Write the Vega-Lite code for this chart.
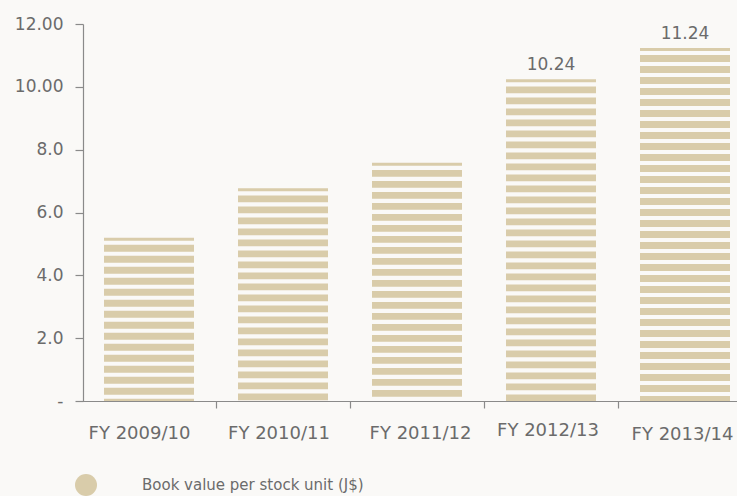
{
  "$schema": "https://vega.github.io/schema/vega-lite/v6.json",
  "width": 654,
  "height": 377,
  "autosize": {"type": "none"},
  "padding": {"left": 83, "top": 24, "right": 0, "bottom": 95},
  "background": "#faf9f7",
  "config": {"view": {"stroke": null}, "font": "DejaVu Sans"},
  "data": {
    "values": [
      {"year": "FY 2009/10", "value": 5.2, "series": "Book value per stock unit (J$)", "label": ""},
      {"year": "FY 2010/11", "value": 6.77, "series": "Book value per stock unit (J$)", "label": ""},
      {"year": "FY 2011/12", "value": 7.58, "series": "Book value per stock unit (J$)", "label": ""},
      {"year": "FY 2012/13", "value": 10.24, "series": "Book value per stock unit (J$)", "label": "10.24"},
      {"year": "FY 2013/14", "value": 11.24, "series": "Book value per stock unit (J$)", "label": "11.24"}
    ]
  },
  "layer": [
    {
      "mark": {"type": "rule", "strokeWidth": 90, "strokeCap": "butt", "strokeDash": [6.8, 4.2], "strokeDashOffset": 3.8, "opacity": 1},
      "encoding": {
        "x": {
          "field": "year",
          "type": "nominal",
          "sort": null,
          "scale": {"range": [-1, 669], "paddingInner": 0.33, "paddingOuter": 0.165},
          "axis": {
            "title": null,
            "orient": "bottom",
            "domainColor": "#8a8a8a",
            "domainWidth": 1.2,
            "tickColor": "#8a8a8a",
            "tickWidth": 1.2,
            "tickSize": 7,
            "tickOffset": 67,
            "labelFontSize": 18,
            "labelColor": "#6b6b6b",
            "labelBaseline": "alphabetic",
            "labelAngle": 0,
            "labelOverlap": false,
            "labelBound": false,
            "labelPadding": {
              "condition": [
                {"test": "datum.value === 'FY 2012/13'", "value": 27.5},
                {"test": "datum.value === 'FY 2013/14'", "value": 31.3}
              ],
              "value": 30.3
            },
            "labelOffset": {
              "condition": [
                {"test": "datum.value === 'FY 2009/10'", "value": -77},
                {"test": "datum.value === 'FY 2010/11'", "value": -71.5},
                {"test": "datum.value === 'FY 2011/12'", "value": -64},
                {"test": "datum.value === 'FY 2012/13'", "value": -70.5},
                {"test": "datum.value === 'FY 2013/14'", "value": -70}
              ],
              "value": -67
            },
            "zindex": 2
          }
        },
        "y": {
          "field": "value",
          "type": "quantitative",
          "scale": {"domain": [0, 12], "nice": false},
          "axis": {
            "title": null,
            "orient": "left",
            "values": [0, 2, 4, 6, 8, 10, 12],
            "grid": false,
            "domainColor": "#8a8a8a",
            "domainWidth": 1.2,
            "tickColor": "#8a8a8a",
            "tickWidth": 1.2,
            "tickSize": 8,
            "labelFontSize": 17,
            "labelColor": "#6b6b6b",
            "labelPadding": 12,
            "labelExpr": "datum.value == 0 ? '-' : (datum.value >= 10 ? format(datum.value, '.2f') : format(datum.value, '.1f'))",
            "zindex": 2
          }
        },
        "y2": {"datum": 0},
        "color": {
          "field": "series",
          "type": "nominal",
          "scale": {"range": ["#d9ccaa"]},
          "legend": {
            "title": null,
            "orient": "none",
            "legendX": -8,
            "legendY": 450,
            "symbolType": "circle",
            "symbolSize": 484,
            "symbolFillColor": "#d9ccaa",
            "symbolStrokeWidth": 0,
            "symbolDash": [],
            "symbolOpacity": 1,
            "labelFontSize": 15,
            "labelColor": "#6b6b6b",
            "labelOffset": 45,
            "labelLimit": 400,
            "padding": 0
          }
        }
      }
    },
    {
      "transform": [{"filter": "datum.label != ''"}],
      "mark": {"type": "text", "dy": -9, "baseline": "alphabetic", "fontSize": 17, "color": "#6b6b6b"},
      "encoding": {
        "x": {"field": "year", "type": "nominal", "sort": null},
        "y": {"field": "value", "type": "quantitative"},
        "text": {"field": "label", "type": "nominal"}
      }
    }
  ]
}
